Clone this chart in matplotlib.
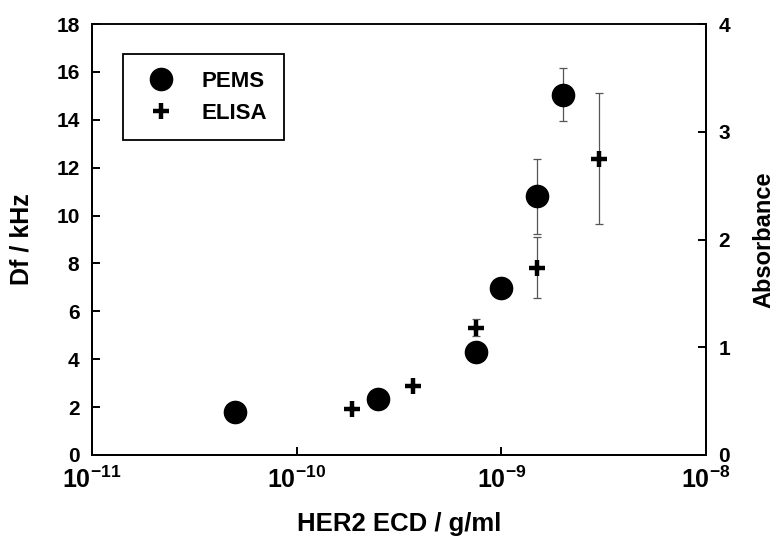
import matplotlib
matplotlib.use("Agg")
import matplotlib.pyplot as plt
from matplotlib.ticker import FixedLocator, NullLocator

plt.rcParams['font.family'] = ['Liberation Sans', 'DejaVu Sans']
plt.rcParams['font.weight'] = 'bold'
plt.rcParams['mathtext.fontset'] = 'custom'
plt.rcParams['mathtext.rm'] = 'Liberation Sans:bold'
plt.rcParams['mathtext.bf'] = 'Liberation Sans:bold'
plt.rcParams['mathtext.default'] = 'bf'

# PEMS data (left axis, Df / kHz)
pems_conc = [5e-11, 2.5e-10, 7.5e-10, 1e-9, 1.5e-9, 2e-9]
pems_df = [1.78, 2.32, 4.32, 6.98, 10.8, 15.05]
pems_err = [0, 0, 0, 0, 1.55, 1.1]

# ELISA data (right axis, Absorbance)
elisa_conc = [1.87e-10, 3.72e-10, 7.5e-10, 1.5e-9, 3e-9]
elisa_abs = [0.425, 0.637, 1.18, 1.74, 2.75]
elisa_err = [0, 0, 0.08, 0.28, 0.61]

x_ticks = [1e-11, 1e-10, 1e-9, 1e-8]
x_ticklabels = [r'$10^{-11}$', r'$10^{-10}$', r'$10^{-9}$', r'$10^{-8}$']
left_ticks = [0, 2, 4, 6, 8, 10, 12, 14, 16, 18]
right_ticks = [0, 1, 2, 3, 4]

fig = plt.figure(figsize=(7.78, 5.42), dpi=100)
ax = fig.add_axes([92/778, 87/542, (706-92)/778, (455-24)/542])
ax2 = ax.twinx()

ax.set_xscale('log')
ax.set_xlim(1e-11, 1e-8)
ax.set_ylim(0, 18)
ax2.set_ylim(0, 4)

# error bars
pe = [(c, d, e) for c, d, e in zip(pems_conc, pems_df, pems_err) if e > 0]
ax.errorbar([p[0] for p in pe], [p[1] for p in pe], yerr=[p[2] for p in pe],
            fmt='none', ecolor='#555555', elinewidth=0.9, capsize=3, capthick=0.9, zorder=2)
ee = [(c, d, e) for c, d, e in zip(elisa_conc, elisa_abs, elisa_err) if e > 0]
ax2.errorbar([p[0] for p in ee], [p[1] for p in ee], yerr=[p[2] for p in ee],
             fmt='none', ecolor='#555555', elinewidth=0.9, capsize=3, capthick=0.9, zorder=2)

h1, = ax.plot(pems_conc, pems_df, 'o', color='black', markersize=16, linestyle='none', zorder=3)
h2, = ax2.plot(elisa_conc, elisa_abs, '+', color='black', markersize=11, mew=3.2,
               linestyle='none', zorder=3)

ax.xaxis.set_major_locator(FixedLocator(x_ticks))
ax.xaxis.set_minor_locator(NullLocator())
ax.set_xticklabels(x_ticklabels, fontsize=18)
ax.set_yticks(left_ticks)
ax2.set_yticks(right_ticks)

for a in (ax, ax2):
    for s in a.spines.values():
        s.set_linewidth(1.4)
    a.tick_params(direction='in', length=6, width=1.4, labelsize=15)
ax.spines['top'].set_linewidth(1.1)
ax2.spines['top'].set_linewidth(1.1)
ax.tick_params(axis='x', pad=8, labelsize=18)
ax.tick_params(axis='y', right=False, pad=9)
ax2.tick_params(axis='y', left=False, pad=9)

ax.set_xlabel('HER2 ECD / g/ml', fontsize=18.5, fontweight='bold', labelpad=14)
ax.set_ylabel('Df / kHz', fontsize=18, fontweight='bold', labelpad=16)
ax2.set_ylabel('Absorbance', fontsize=17, fontweight='bold', labelpad=16)

leg = ax.legend([h1, h2], ['PEMS', 'ELISA'], loc='upper left',
                bbox_to_anchor=((123-92)/614, (455-54)/431), fancybox=False,
                edgecolor='black', framealpha=1, prop={'weight': 'bold', 'size': 16},
                borderpad=0.75, handletextpad=0.85, labelspacing=0.5, handlelength=1.95,
                borderaxespad=0)
leg.get_frame().set_linewidth(1.3)

fig.savefig('out.png', dpi=100)
